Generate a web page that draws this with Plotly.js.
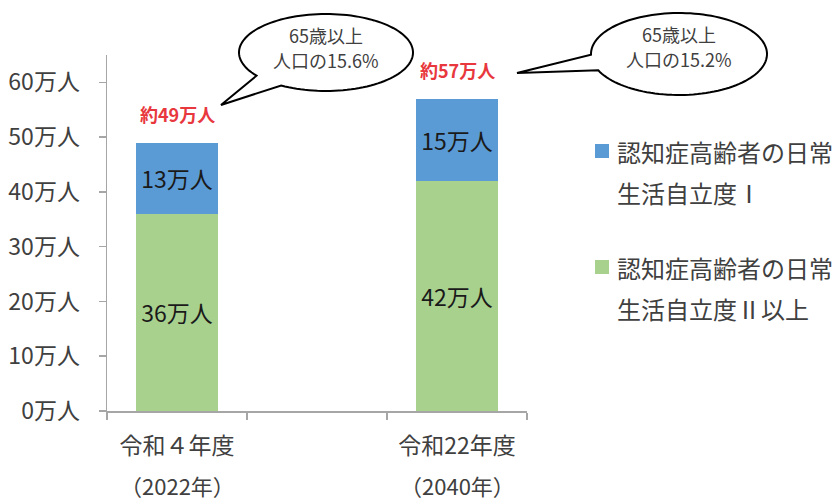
<!DOCTYPE html>
<html>
<head>
<meta charset="utf-8">
<script src="https://cdn.plot.ly/plotly-3.0.1.min.js"></script>
<style>
  html, body { margin: 0; padding: 0; background: #fff; }
  #chart { width: 838px; height: 500px; }
</style>
</head>
<body>
<div id="chart"></div>
<script>
// ---- data ----
const categories = ["令和４年度", " ", "令和22年度"];
const barCategories = ["令和４年度", "令和22年度"];
const yearLabels = ["（2022年）", "（2040年）"];
const seriesNames = ["認知症高齢者の日常生活自立度Ⅱ以上", "認知症高齢者の日常生活自立度Ⅰ"];
const level2Plus = [36, 42];      // 万人
const level1 = [13, 15];          // 万人
const level2PlusLabels = ["36万人", "42万人"];
const level1Labels = ["13万人", "15万人"];
const totalLabels = ["約49万人", "約57万人"];
const shareLines = [["65歳以上", "人口の15.6%"], ["65歳以上", "人口の15.2%"]];
const yTickVals = [0, 10, 20, 30, 40, 50, 60];
const yTickText = ["0万人", "10万人", "20万人", "30万人", "40万人", "50万人", "60万人"];
const legendLines = [["認知症高齢者の日常", "生活自立度Ⅰ"], ["認知症高齢者の日常", "生活自立度Ⅱ以上"]];

// ---- layout constants ----
const W = 838, H = 500;
const M = {l: 107, r: 311, t: 55, b: 89};
const PW = W - M.l - M.r, PH = H - M.t - M.b;
const px2x = p => (p - M.l) / PW;
const px2y = p => (H - M.b - p) / PH;
const FONT = '"Noto Sans CJK JP", "Noto Sans", sans-serif';
const BLUE = '#5B9BD5', GREEN = '#A9D18E', RED = '#E8383D';

const traces = [
  {
    type: 'bar', name: seriesNames[0], x: barCategories, y: level2Plus,
    marker: {color: GREEN}, text: level2PlusLabels, texttemplate: '%{text}',
    textposition: 'inside', insidetextanchor: 'middle', constraintext: 'none',
    textfont: {family: FONT, size: 23, color: '#1a1a1a'}, hoverinfo: 'skip', showlegend: false
  },
  {
    type: 'bar', name: seriesNames[1], x: barCategories, y: level1,
    marker: {color: BLUE}, text: level1Labels, texttemplate: '%{text}',
    textposition: 'inside', insidetextanchor: 'middle', constraintext: 'none',
    textfont: {family: FONT, size: 23, color: '#1a1a1a'}, hoverinfo: 'skip', showlegend: false
  }
];

// speech bubble path in pixel space -> paper
function bubble(cx, cy, rx, ry, a0, a1, tip) {
  const pts = [];
  const n = 120;
  for (let i = 0; i <= n; i++) {
    const a = (a0 + (a1 - a0) * i / n) * Math.PI / 180;
    pts.push([cx + rx * Math.cos(a), cy + ry * Math.sin(a)]);
  }
  pts.push(tip);
  return 'M ' + pts.map(p => px2x(p[0]).toFixed(5) + ',' + px2y(p[1]).toFixed(5)).join(' L ') + ' Z';
}

const shapes = [
  {type: 'path', xref: 'paper', yref: 'paper', layer: 'above',
   path: bubble(326, 52.5, 87, 38.5, 143, 121 + 360, [221, 105]),
   line: {color: '#000', width: 2}, fillcolor: '#fff'},
  {type: 'path', xref: 'paper', yref: 'paper', layer: 'above',
   path: bubble(679, 54, 88, 41, 179, 156.5 + 360, [517, 73]),
   line: {color: '#000', width: 2}, fillcolor: '#fff'}
];

// legend squares
const legendColors = [BLUE, GREEN];
const legendTop = [151, 267];
legendColors.forEach((c, i) => {
  shapes.push({type: 'rect', xref: 'paper', yref: 'paper',
    x0: px2x(595), x1: px2x(609), y0: px2y(legendTop[i] - 7), y1: px2y(legendTop[i] + 7),
    fillcolor: c, line: {width: 0}});
});

const annotations = [];
// totals above bars
barCategories.forEach((c, i) => {
  annotations.push({x: c, y: level2Plus[i] + level1[i], xref: 'x', yref: 'y',
    text: '<b>' + totalLabels[i] + '</b>', showarrow: false, yanchor: 'middle', yshift: 29,
    font: {family: FONT, size: 18, color: RED}});
});
// category second line (year)
barCategories.forEach((c, i) => {
  annotations.push({x: c, y: px2y(485), xref: 'x', yref: 'paper',
    text: yearLabels[i], showarrow: false, yanchor: 'middle',
    font: {family: FONT, size: 22, color: '#404040'}});
});
// bubble texts
const bubbleX = [326, 679];
const bubbleY = [[35, 60], [34, 59]];
shareLines.forEach((lines, i) => {
  lines.forEach((t, j) => {
    annotations.push({x: px2x(bubbleX[i]), y: px2y(bubbleY[i][j]), xref: 'paper', yref: 'paper',
      text: t, showarrow: false, xanchor: 'center', yanchor: 'middle',
      font: {family: FONT, size: 18, color: '#404040'}});
  });
});
// legend text
legendLines.forEach((lines, i) => {
  lines.forEach((ln, j) => {
    annotations.push({x: px2x(615), y: px2y(legendTop[i] + j * 41), xref: 'paper', yref: 'paper',
      text: ln, showarrow: false, xanchor: 'left', yanchor: 'middle',
      font: {family: FONT, size: 24, color: '#404040'}});
  });
});

const layout = {
  width: W, height: H,
  margin: M,
  paper_bgcolor: '#fff', plot_bgcolor: '#fff',
  barmode: 'stack', bargap: 0.41,
  showlegend: false,
  font: {family: FONT, color: '#404040'},
  xaxis: {
    type: 'category', categoryarray: categories, categoryorder: 'array',
    range: [-0.5, 2.5], tickson: 'boundaries',
    showline: true, linecolor: '#A6A6A6', linewidth: 1.5,
    ticks: 'outside', ticklen: 7, tickcolor: '#A6A6A6', tickwidth: 1.5,
    showgrid: false, zeroline: false, ticklabelstandoff: 14,
    tickfont: {family: FONT, size: 23, color: '#404040'}
  },
  yaxis: {
    range: [0, 65], tickvals: yTickVals, ticktext: yTickText,
    showline: true, linecolor: '#A6A6A6', linewidth: 1.5,
    ticks: 'outside', ticklen: 7, tickcolor: '#A6A6A6', tickwidth: 1.5,
    showgrid: false, zeroline: false, ticklabelstandoff: 14,
    tickfont: {family: FONT, size: 23, color: '#404040'}
  },
  shapes: shapes,
  annotations: annotations
};

Plotly.newPlot('chart', traces, layout, {displayModeBar: false, staticPlot: true});
</script>
</body>
</html>
